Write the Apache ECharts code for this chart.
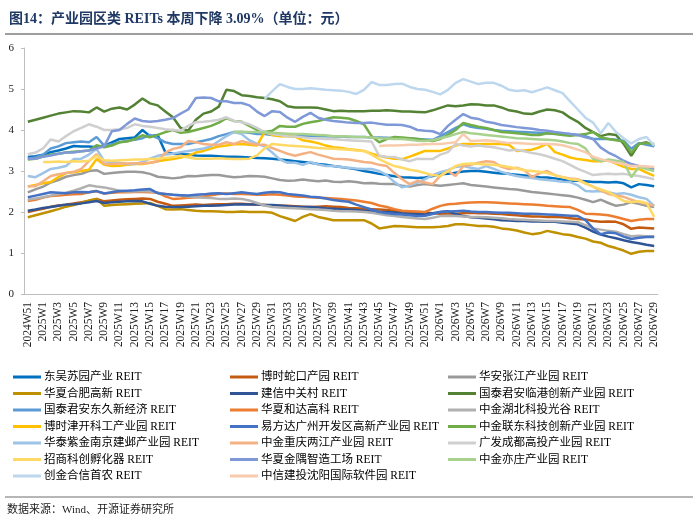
<!DOCTYPE html>
<html style="height: 100%">
<head>
    <meta charset="utf-8">
    <title>产业园区类 REITs</title>
</head>
<body style="margin:0">
<div id="container" style="width:700px;height:524px"></div>

<script src="https://cdn.jsdelivr.net/npm/echarts@6/dist/echarts.min.js" type="text/javascript"></script>

<script type="text/javascript">
    // x 轴周次
    var weeks = ['2024W51', '2024W52',
        '2025W1', '2025W2', '2025W3', '2025W4', '2025W5', '2025W6', '2025W7', '2025W8', '2025W9', '2025W10',
        '2025W11', '2025W12', '2025W13', '2025W14', '2025W15', '2025W16', '2025W17', '2025W18', '2025W19', '2025W20',
        '2025W21', '2025W22', '2025W23', '2025W24', '2025W25', '2025W26', '2025W27', '2025W28', '2025W29', '2025W30',
        '2025W31', '2025W32', '2025W33', '2025W34', '2025W35', '2025W36', '2025W37', '2025W38', '2025W39', '2025W40',
        '2025W41', '2025W42', '2025W43', '2025W44', '2025W45', '2025W46', '2025W47', '2025W48', '2025W49', '2025W50',
        '2025W51', '2025W52',
        '2026W1', '2026W2', '2026W3', '2026W4', '2026W5', '2026W6', '2026W7', '2026W8', '2026W9', '2026W10',
        '2026W11', '2026W12', '2026W13', '2026W14', '2026W15', '2026W16', '2026W17', '2026W18', '2026W19', '2026W20',
        '2026W21', '2026W22', '2026W23', '2026W24', '2026W25', '2026W26', '2026W27', '2026W28', '2026W29'];

    var yTicks = [0, 1, 2, 3, 4, 5, 6];

    // 各 REIT 周收盘价（元）
    var dongwu = [3.34, 3.36, 3.40, 3.46, 3.50, 3.55, 3.61, 3.60, 3.60, 3.58,
        3.62, 3.70, 3.78, 3.80, 3.82, 4.00, 3.85, 3.88, 3.46, 3.42,
        3.41, 3.40, 3.38, 3.37, 3.37, 3.36, 3.35, 3.35, 3.34, 3.33,
        3.32, 3.31, 3.30, 3.28, 3.26, 3.24, 3.22, 3.20, 3.17, 3.15,
        3.12, 3.10, 3.07, 3.04, 3.00, 2.97, 2.93, 2.90, 2.87, 2.85,
        2.84, 2.83, 2.84, 2.88, 2.92, 2.93, 2.96, 2.99, 3.00, 3.00,
        2.98, 2.96, 2.94, 2.93, 2.91, 2.89, 2.87, 2.85, 2.84, 2.82,
        2.79, 2.77, 2.76, 2.75, 2.73, 2.73, 2.72, 2.73, 2.70, 2.60,
        2.68, 2.66, 2.63];
    var shekou = [2.00, 2.04, 2.08, 2.13, 2.16, 2.18, 2.21, 2.24, 2.27, 2.32,
        2.26, 2.28, 2.30, 2.31, 2.32, 2.33, 2.32, 2.25, 2.20, 2.15,
        2.16, 2.17, 2.18, 2.17, 2.18, 2.19, 2.19, 2.20, 2.20, 2.19,
        2.18, 2.17, 2.16, 2.15, 2.15, 2.14, 2.13, 2.12, 2.13, 2.14,
        2.13, 2.12, 2.10, 2.09, 2.08, 2.07, 2.06, 2.05, 2.03, 2.01,
        2.00, 1.99, 1.98, 1.97, 1.96, 1.95, 1.96, 1.97, 1.98, 1.97,
        1.97, 1.96, 1.95, 1.93, 1.92, 1.90, 1.89, 1.89, 1.88, 1.88,
        1.87, 1.85, 1.83, 1.82, 1.78, 1.76, 1.77, 1.76, 1.70, 1.59,
        1.62, 1.61, 1.60];
    var zhangjiang = [2.48, 2.55, 2.62, 2.72, 2.78, 2.86, 2.90, 2.93, 3.00, 3.02,
        2.93, 2.95, 2.97, 2.98, 2.98, 2.97, 2.93, 2.86, 2.84, 2.82,
        2.84, 2.88, 2.87, 2.89, 2.90, 2.90, 2.87, 2.85, 2.86, 2.88,
        2.87, 2.86, 2.82, 2.78, 2.76, 2.77, 2.79, 2.77, 2.75, 2.77,
        2.74, 2.73, 2.75, 2.73, 2.70, 2.71, 2.69, 2.68, 2.68, 2.64,
        2.62, 2.66, 2.68, 2.66, 2.64, 2.66, 2.68, 2.70, 2.66, 2.64,
        2.62, 2.60, 2.58, 2.56, 2.55, 2.52, 2.49, 2.47, 2.45, 2.43,
        2.41, 2.39, 2.35, 2.30, 2.24, 2.30, 2.22, 2.15, 2.18, 2.24,
        2.20, 2.15, 2.12];
    var hefei = [1.87, 1.92, 1.97, 2.02, 2.07, 2.13, 2.17, 2.22, 2.28, 2.32,
        2.15, 2.17, 2.18, 2.19, 2.20, 2.21, 2.22, 2.15, 2.07, 2.06,
        2.07, 2.05, 2.03, 2.02, 2.02, 2.01, 2.00, 2.00, 2.01, 2.00,
        2.00, 2.00, 1.98, 1.90, 1.84, 1.78, 1.88, 1.95, 1.88, 1.84,
        1.80, 1.80, 1.80, 1.80, 1.80, 1.72, 1.60, 1.63, 1.66, 1.65,
        1.64, 1.63, 1.63, 1.63, 1.64, 1.66, 1.70, 1.70, 1.68, 1.66,
        1.66, 1.64, 1.60, 1.58, 1.55, 1.50, 1.46, 1.48, 1.54, 1.50,
        1.46, 1.44, 1.39, 1.35, 1.28, 1.25, 1.17, 1.12, 1.06, 0.98,
        1.03, 1.05, 1.05];
    var zhongguancun = [2.03, 2.06, 2.10, 2.12, 2.15, 2.18, 2.19, 2.21, 2.24, 2.27,
        2.22, 2.24, 2.25, 2.26, 2.27, 2.26, 2.20, 2.15, 2.13, 2.12,
        2.12, 2.13, 2.14, 2.15, 2.15, 2.16, 2.17, 2.18, 2.19, 2.18,
        2.18, 2.17, 2.17, 2.16, 2.14, 2.13, 2.12, 2.12, 2.11, 2.09,
        2.08, 2.07, 2.06, 2.05, 2.03, 2.02, 2.00, 2.00, 1.99, 1.97,
        1.96, 1.95, 1.95, 1.97, 2.00, 2.02, 1.95, 1.90, 1.87, 1.86,
        1.84, 1.82, 1.80, 1.79, 1.78, 1.78, 1.77, 1.77, 1.76, 1.76,
        1.74, 1.72, 1.70, 1.62, 1.52, 1.45, 1.40, 1.36, 1.31, 1.27,
        1.24, 1.20, 1.17];
    var lingang = [4.20, 4.25, 4.30, 4.35, 4.40, 4.43, 4.46, 4.45, 4.43, 4.55,
        4.45, 4.52, 4.55, 4.50, 4.62, 4.77, 4.65, 4.60, 4.45, 4.31,
        4.05, 3.98, 4.25, 4.40, 4.45, 4.57, 4.98, 4.95, 4.85, 4.83,
        4.80, 4.78, 4.75, 4.70, 4.58, 4.55, 4.55, 4.55, 4.54, 4.50,
        4.46, 4.47, 4.46, 4.46, 4.46, 4.47, 4.47, 4.48, 4.47, 4.45,
        4.45, 4.44, 4.43, 4.48, 4.54, 4.60, 4.58, 4.60, 4.63, 4.62,
        4.60, 4.60, 4.55, 4.48, 4.45, 4.40, 4.39, 4.45, 4.50, 4.48,
        4.43, 4.30, 4.20, 4.05, 3.95, 3.85, 3.90, 3.88, 3.66, 3.37,
        3.66, 3.70, 3.60];
    var dongjiu = [3.30, 3.33, 3.40, 3.55, 3.60, 3.68, 3.70, 3.72, 3.70, 3.83,
        3.62, 3.65, 3.70, 3.74, 3.76, 3.80, 3.88, 3.80, 3.70, 3.66,
        3.66, 3.66, 3.70, 3.74, 3.78, 3.85, 3.90, 3.95, 3.95, 3.93,
        3.90, 3.90, 3.88, 3.87, 3.86, 3.85, 3.85, 3.86, 3.85, 3.85,
        3.84, 3.84, 3.83, 3.83, 3.83, 3.82, 3.82, 3.81, 3.80, 3.80,
        3.79, 3.78, 3.77, 3.76, 3.85, 3.95, 4.05, 4.14, 4.08, 4.05,
        4.03, 4.00, 3.98, 3.97, 3.96, 3.95, 3.94, 3.93, 3.92, 3.91,
        3.90, 3.90, 3.88, 3.85, 3.78, 3.78, 3.78, 3.76, 3.74, 3.54,
        3.68, 3.64, 3.60];
    var heda = [2.27, 2.30, 2.35, 2.39, 2.40, 2.42, 2.43, 2.44, 2.48, 2.51,
        2.45, 2.47, 2.48, 2.48, 2.49, 2.49, 2.48, 2.47, 2.38, 2.32,
        2.33, 2.35, 2.36, 2.38, 2.41, 2.44, 2.45, 2.44, 2.44, 2.43,
        2.42, 2.42, 2.43, 2.42, 2.40, 2.38, 2.37, 2.36, 2.35, 2.34,
        2.33, 2.32, 2.30, 2.28, 2.25, 2.22, 2.16, 2.12, 2.07, 2.03,
        2.02, 2.01, 2.00, 2.08, 2.15, 2.19, 2.20, 2.22, 2.23, 2.24,
        2.24, 2.23, 2.22, 2.21, 2.20, 2.19, 2.18, 2.17, 2.15, 2.14,
        2.13, 2.12, 2.05, 1.96, 1.95, 1.94, 1.92, 1.88, 1.83, 1.78,
        1.81, 1.83, 1.83];
    var hubei = [2.30, 2.33, 2.36, 2.40, 2.44, 2.47, 2.52, 2.58, 2.65, 2.62,
        2.60, 2.56, 2.52, 2.50, 2.50, 2.51, 2.50, 2.47, 2.44, 2.42,
        2.40, 2.38, 2.36, 2.35, 2.34, 2.32, 2.32, 2.33, 2.32, 2.28,
        2.22, 2.16, 2.12, 2.11, 2.10, 2.09, 2.08, 2.07, 2.06, 2.05,
        2.03, 2.02, 2.02, 2.01, 2.00, 1.98, 1.95, 1.92, 1.90, 1.88,
        1.86, 1.84, 1.83, 1.86, 1.90, 1.91, 1.90, 1.89, 1.88, 1.88,
        1.87, 1.86, 1.85, 1.83, 1.82, 1.81, 1.80, 1.79, 1.78, 1.78,
        1.77, 1.76, 1.75, 1.68, 1.60, 1.57, 1.54, 1.52, 1.46, 1.41,
        1.42, 1.41, 1.41];
    var jinkai = [2.62, 2.66, 2.70, 2.73, 2.85, 2.95, 2.97, 3.00, 3.03, 3.29,
        3.15, 3.12, 3.13, 3.15, 3.17, 3.17, 3.20, 3.24, 3.27, 3.29,
        3.33, 3.37, 3.45, 3.49, 3.55, 3.60, 3.62, 3.65, 3.66, 3.64,
        3.62, 3.95, 3.88, 3.85, 3.85, 3.84, 3.75, 3.72, 3.68, 3.62,
        3.58, 3.56, 3.53, 3.51, 3.49, 3.42, 3.37, 3.33, 3.30, 3.29,
        3.35, 3.42, 3.49, 3.49, 3.49, 3.55, 3.62, 3.66, 3.66, 3.65,
        3.66, 3.66, 3.66, 3.64, 3.49, 3.50, 3.52, 3.58, 3.66, 3.46,
        3.40, 3.33, 3.29, 3.27, 3.24, 3.24, 3.26, 3.18, 3.10, 3.05,
        3.05, 2.96, 2.88];
    var yifangda = [2.36, 2.40, 2.44, 2.48, 2.47, 2.46, 2.48, 2.49, 2.48, 2.51,
        2.45, 2.48, 2.51, 2.52, 2.53, 2.55, 2.56, 2.46, 2.44, 2.42,
        2.41, 2.40, 2.42, 2.43, 2.45, 2.46, 2.44, 2.46, 2.48, 2.46,
        2.44, 2.47, 2.49, 2.48, 2.44, 2.42, 2.40, 2.37, 2.36, 2.33,
        2.29, 2.27, 2.25, 2.18, 2.12, 2.06, 2.00, 1.97, 1.95, 1.94,
        1.92, 1.90, 1.91, 1.95, 2.00, 2.01, 2.02, 2.03, 2.01, 2.00,
        2.00, 1.99, 1.98, 1.98, 1.97, 1.96, 1.96, 1.95, 1.94, 1.93,
        1.92, 1.91, 1.90, 1.80, 1.60, 1.46, 1.50, 1.48, 1.40, 1.34,
        1.37, 1.39, 1.39];
    var liandong = [3.28, 3.30, 3.35, 3.40, 3.42, 3.45, 3.47, 3.48, 3.50, 3.63,
        3.58, 3.62, 3.70, 3.72, 3.78, 3.87, 3.82, 3.88, 3.95, 4.00,
        3.93, 3.95, 4.00, 4.05, 4.10, 4.18, 4.29, 4.22, 4.20, 4.10,
        4.00, 3.95, 3.98, 4.10, 4.08, 4.08, 4.15, 4.19, 4.22, 4.27,
        4.31, 4.30, 4.28, 4.22, 4.14, 3.85, 3.70, 3.78, 3.83, 3.82,
        3.80, 3.78, 3.75, 3.73, 3.78, 3.88, 4.00, 4.17, 4.12, 4.08,
        4.05, 4.00, 3.95, 3.94, 3.92, 3.90, 3.88, 3.88, 3.92, 3.90,
        3.88, 3.86, 3.88, 3.90, 3.95, 3.82, 3.78, 3.75, 3.72, 3.45,
        3.66, 3.68, 3.66];
    var nanjing = [2.88, 2.85, 2.95, 3.05, 3.08, 3.12, 3.29, 3.30, 3.40, 3.54,
        3.24, 3.22, 3.20, 3.17, 3.17, 3.22, 3.30, 3.37, 3.40, 3.42,
        3.46, 3.49, 3.52, 3.55, 3.60, 3.73, 3.85, 3.95, 3.90, 3.75,
        3.66, 3.60, 3.45, 3.28, 3.20, 3.20, 3.15, 3.22, 3.16, 3.12,
        3.12, 3.10, 3.08, 3.06, 3.05, 3.05, 3.00, 2.90, 2.73, 2.60,
        2.65, 2.72, 2.80, 2.90, 2.97, 3.02, 3.10, 3.12, 3.08, 3.05,
        3.12, 3.05, 2.98, 2.92, 2.88, 2.85, 2.83, 2.80, 2.78, 2.76,
        2.74, 2.73, 2.65, 2.51, 2.50, 2.51, 2.48, 2.44, 2.46, 2.42,
        2.36, 2.32, 2.15];
    var chongqing = [2.63, 2.63, 2.75, 2.88, 2.92, 2.95, 2.98, 3.05, 3.24, 3.41,
        3.17, 3.17, 3.18, 3.18, 3.19, 3.19, 3.20, 3.23, 3.45, 3.54,
        3.58, 3.73, 3.70, 3.66, 3.64, 3.64, 3.70, 3.66, 3.73, 3.68,
        3.64, 3.64, 3.56, 3.49, 3.42, 3.37, 3.42, 3.46, 3.40, 3.35,
        3.30, 3.29, 3.28, 3.25, 3.22, 3.20, 3.15, 3.12, 2.95, 2.80,
        2.68, 2.76, 2.72, 2.68, 2.88, 3.00, 2.88, 3.12, 3.15, 3.20,
        3.24, 3.22, 3.10, 3.05, 3.08, 3.02, 2.85, 2.95, 3.00, 2.90,
        2.85, 2.82, 2.80, 2.70, 2.62, 2.52, 2.44, 2.40, 2.37, 2.30,
        2.24, 2.20, 2.15];
    var chengdu = [3.41, 3.45, 3.55, 3.77, 3.72, 3.85, 3.97, 4.05, 4.14, 4.08,
        4.00, 4.00, 4.02, 4.05, 4.14, 4.10, 4.08, 4.05, 4.02, 4.00,
        3.98, 4.10, 4.19, 4.20, 4.22, 4.25, 4.31, 4.22, 4.19, 4.14,
        4.05, 3.95, 3.90, 3.88, 3.85, 3.84, 3.82, 3.80, 3.79, 3.78,
        3.78, 3.76, 3.75, 3.74, 3.73, 3.72, 3.37, 3.35, 3.34, 3.28,
        3.24, 3.30, 3.29, 3.29, 3.40, 3.46, 3.66, 3.62, 3.60, 3.62,
        3.60, 3.58, 3.54, 3.50, 3.52, 3.48, 3.44, 3.41, 3.36, 3.30,
        3.24, 3.15, 3.05, 2.98, 2.90, 2.92, 2.93, 2.92, 2.93, 2.90,
        2.88, 2.84, 2.80];
    var zhaoshang = [null, null, 3.22, 3.22, 3.23, 3.22, 3.24, 3.23, 3.25, 3.37,
        3.26, 3.25, 3.26, 3.27, 3.28, 3.28, 3.29, 3.30, 3.32, 3.34,
        3.37, 3.33, 3.30, 3.30, 3.30, 3.31, 3.30, 3.29, 3.29, 3.30,
        3.38, 3.55, 3.66, 3.64, 3.62, 3.61, 3.60, 3.58, 3.56, 3.55,
        3.54, 3.53, 3.52, 3.50, 3.49, 3.40, 3.29, 3.20, 3.12, 3.08,
        3.03, 3.00, 2.95, 2.90, 2.88, 3.00, 3.12, 3.17, 3.18, 3.17,
        3.16, 3.15, 3.13, 3.10, 3.06, 3.02, 3.00, 2.98, 2.95, 2.90,
        2.85, 2.80, 2.78, 2.70, 2.62, 2.55, 2.49, 2.38, 2.27, 2.24,
        2.26, 2.22, 1.88];
    var jinyu = [3.30, 3.30, 3.35, 3.38, 3.42, 3.45, 3.45, 3.48, 3.50, 3.55,
        3.60, 3.97, 4.00, 4.15, 4.28, 4.22, 4.20, 4.22, 4.25, 4.29,
        4.40, 4.50, 4.78, 4.79, 4.78, 4.70, 4.70, 4.66, 4.66, 4.60,
        4.45, 4.34, 4.46, 4.44, 4.30, 4.20, 4.32, 4.42, 4.30, 4.25,
        4.22, 4.20, 4.18, 4.17, 4.17, 4.18, 4.15, 4.13, 4.13, 4.12,
        4.08, 4.00, 3.98, 3.97, 3.90, 4.10, 4.25, 4.39, 4.30, 4.27,
        4.20, 4.17, 4.12, 4.10, 4.07, 4.05, 4.03, 4.00, 3.98, 3.95,
        3.93, 3.90, 3.88, 3.82, 3.78, 3.57, 3.45, 3.36, 3.25, 3.17,
        3.12, 3.10, 3.05];
    var yizhuang = [null, null, null, null, null, null, null, null, null, null,
        null, null, null, null, null, null, null, null, null, null,
        null, null, null, null, null, null, null, 3.95, 3.96, 3.95,
        3.95, 3.94, 3.93, 3.92, 3.91, 3.90, 3.90, 3.89, 3.88, 3.87,
        3.85, 3.85, 3.84, 3.83, 3.83, 3.82, 3.80, 3.79, 3.78, 3.78,
        3.76, 3.74, 3.73, 3.75, 3.80, 3.84, 3.90, 3.95, 3.92, 3.90,
        3.88, 3.86, 3.84, 3.82, 3.80, 3.79, 3.78, 3.77, 3.76, 3.75,
        3.72, 3.68, 3.66, 3.55, 3.30, 3.24, 3.28, 3.25, 3.22, 2.85,
        3.10, 3.05, 3.00];
    var shounong = [null, null, null, null, null, null, null, null, null, null,
        null, null, null, null, null, null, null, null, null, null,
        null, null, null, null, null, null, null, null, null, null,
        null, 4.76, 4.95, 5.12, 5.05, 5.00, 5.00, 5.02, 5.00, 4.98,
        4.97, 4.96, 4.93, 4.88, 4.98, 5.17, 5.10, 5.10, 5.12, 5.13,
        5.05, 5.00, 4.98, 4.93, 4.87, 4.98, 5.15, 5.24, 5.18, 5.12,
        5.15, 5.15, 5.08, 4.98, 4.95, 4.97, 4.92, 4.98, 5.04, 4.97,
        4.90, 4.70, 4.50, 4.30, 4.18, 3.92, 4.17, 3.95, 3.80, 3.67,
        3.78, 3.83, 3.62];
    var shenyang = [null, null, null, null, null, null, null, null, null, null,
        null, null, null, null, null, null, null, null, null, null,
        null, null, null, null, null, null, null, null, null, null,
        null, null, null, null, null, null, null, null, null, null,
        null, null, null, null, null, null, 3.61, 3.62, 3.62, 3.63,
        3.64, 3.64, 3.65, 3.66, 3.66, 3.68, 3.70, 3.90, 3.73, 3.74,
        3.75, 3.73, 3.70, 3.68, 3.68, 3.67, 3.66, 3.66, 3.66, 3.65,
        3.63, 3.58, 3.52, 3.46, 3.35, 3.29, 3.24, 3.20, 3.17, 3.12,
        3.12, 3.11, 3.10];

    var names = ['东吴苏园产业 REIT', '博时蛇口产园 REIT', '华安张江产业园 REIT',
        '华夏合肥高新 REIT', '建信中关村 REIT', '国泰君安临港创新产业园 REIT',
        '国泰君安东久新经济 REIT', '华夏和达高科 REIT', '中金湖北科投光谷 REIT',
        '博时津开科工产业园 REIT', '易方达广州开发区高新产业园 REIT', '中金联东科技创新产业园 REIT',
        '华泰紫金南京建邺产业园 REIT', '中金重庆两江产业园 REIT', '广发成都高投产业园 REIT',
        '招商科创孵化器 REIT', '华夏金隅智造工场 REIT', '中金亦庄产业园 REIT',
        '创金合信首农 REIT', '中信建投沈阳国际软件园 REIT'];
    var values = [dongwu, shekou, zhangjiang, hefei, zhongguancun, lingang, dongjiu, heda, hubei,
        jinkai, yifangda, liandong, nanjing, chongqing, chengdu, zhaoshang, jinyu, yizhuang,
        shounong, shenyang];
    var colors = ['#0070C0', '#C55A11', '#9A9A9A', '#BF9000', '#2F5597', '#548235',
        '#5B9BD5', '#ED7D31', '#B0B0B0', '#FFC000', '#4472C4', '#70AD47',
        '#9DC3E6', '#F4B183', '#CFCFCF', '#FFD966', '#7F98D8', '#A9D18E',
        '#BDD7EE', '#F8CBAD'];

    var serif = "'Liberation Serif', 'Noto Sans CJK SC', serif";

    var series = names.map(function (n, i) {
        return {
            name: n,
            type: 'line',
            data: values[i],
            symbol: 'none',
            color: colors[i],
            lineStyle: {width: 2.5, color: colors[i]}
        };
    });

    function legendCol(left, idx) {
        return {
            orient: 'vertical',
            left: left,
            top: 370,
            padding: 0,
            icon: 'rect',
            itemWidth: 28,
            itemHeight: 3,
            itemGap: 2.5,
            data: idx.map(function (i) { return names[i]; }),
            textStyle: {fontFamily: serif, fontSize: 11.5, lineHeight: 14, color: '#000', padding: [0, 0, 0, -2]}
        };
    }

    var myChart = echarts.init(document.getElementById('container'));

    var option = {
        animation: false,
        backgroundColor: '#fff',
        title: {
            text: '图14：产业园区类 REITs 本周下降 3.09%（单位：元）',
            left: 4,
            top: 7,
            textStyle: {fontFamily: serif, fontSize: 14, fontWeight: 'bold', color: '#1F3864'}
        },
        graphic: [
            {type: 'line', shape: {x1: 5, y1: 34, x2: 693, y2: 34}, style: {stroke: '#9E9E9E', lineWidth: 2}},
            {type: 'line', shape: {x1: 5, y1: 497, x2: 693, y2: 497}, style: {stroke: '#9E9E9E', lineWidth: 1.5}},
            {type: 'text', left: 7, top: 505, style: {text: '数据来源：Wind、开源证券研究所', font: '11px ' + serif, fill: '#222'}}
        ],
        legend: [
            legendCol(13, [0, 3, 6, 9, 12, 15, 18]),
            legendCol(230, [1, 4, 7, 10, 13, 16, 19]),
            legendCol(448, [2, 5, 8, 11, 14, 17])
        ],
        grid: {left: 24, right: 42, top: 48, height: 246},
        xAxis: {
            type: 'category',
            data: weeks,
            boundaryGap: true,
            axisLine: {lineStyle: {color: '#BFBFBF', width: 1}},
            axisTick: {show: false},
            axisLabel: {
                interval: 1,
                rotate: 90,
                fontFamily: serif,
                fontSize: 11.5,
                color: '#222',
                margin: 8
            }
        },
        yAxis: {
            type: 'value',
            min: yTicks[0],
            max: yTicks[yTicks.length - 1],
            interval: 1,
            axisLine: {show: true, lineStyle: {color: '#BFBFBF', width: 1}},
            axisTick: {show: true, length: 3, lineStyle: {color: '#BFBFBF'}},
            splitLine: {show: false},
            axisLabel: {fontFamily: serif, fontSize: 11, color: '#222', margin: 10}
        },
        series: series
    };

    if (option && typeof option === "object") {
        myChart.setOption(option, true);
    }
</script>
</body>
</html>
